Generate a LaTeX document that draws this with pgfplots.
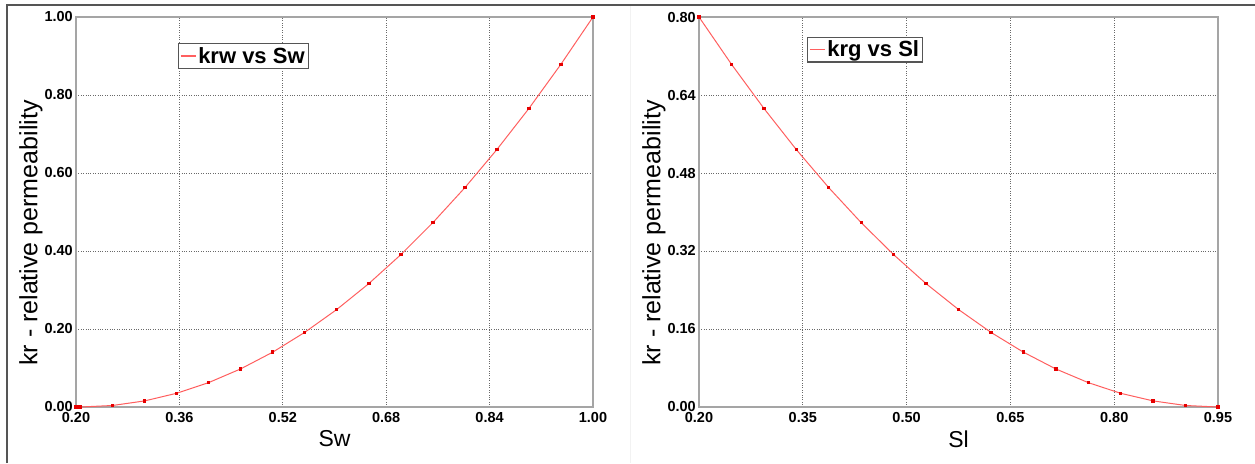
\documentclass[border=0pt]{standalone}
\usepackage{fontspec}
\setmainfont{Liberation Sans}
\usepackage{pgfplots}
\pgfplotsset{compat=1.18}

\definecolor{axgray}{RGB}{165,165,165}
\definecolor{gridgray}{RGB}{105,105,105}
\definecolor{curvered}{RGB}{255,95,95}
\definecolor{markred}{RGB}{230,0,0}
\definecolor{framegray}{RGB}{85,85,85}

\pgfplotsset{
  kr/.style={
    scale only axis,
    height=390pt,
    clip=false,
    axis line style={axgray, line width=2pt},
    grid=major,
    grid style={gridgray, dotted, line width=0.9pt},
    major tick length=0pt,
    tick style={draw=none},
    /pgf/number format/fixed,
    /pgf/number format/fixed zerofill,
    /pgf/number format/precision=2,
    /pgf/number format/assume math mode=true,
    tick label style={font=\fontsize{14.5}{16}\selectfont\bfseries},
    xticklabel style={anchor=north, inner sep=0pt, yshift=-5pt},
    yticklabel style={anchor=east, inner sep=0pt, xshift=-3pt},
    xlabel style={font=\fontsize{23}{26}\selectfont, at={(axis description cs:0.5,-0.082)}, anchor=center},
    ylabel style={font=\fontsize{25}{28}\selectfont, at={(axis description cs:-0.087,0.446)}, anchor=center},
    ylabel={kr - relative permeability},
    legend style={draw=framegray, line width=1.2pt, fill=white,
      font=\fontsize{22}{25}\selectfont\bfseries, inner sep=1.5pt,
      anchor=north west},
    legend cell align=left,
    legend image code/.code={\draw[curvered, line width=1.3pt] (0pt,0pt) -- (15pt,0pt);},
  },
  krcurve/.style={color=curvered, line width=1pt, mark=square*, mark size=1.2pt,
    mark options={draw=markred, fill=markred, line width=0pt}},
}

\begin{document}
\begin{tikzpicture}
\useasboundingbox (0pt,0pt) rectangle (1255pt,-463pt);
\draw[framegray, line width=1.5pt] (7pt,-463pt) -- (7pt,-5pt) -- (1255pt,-5pt);
\draw[gray!10, line width=1pt] (630pt,-463pt) -- (630pt,-6pt);

% left: water relative permeability
\begin{axis}[kr, at={(76pt,-407pt)}, anchor=south west, width=517pt,
  xmin=0.2, xmax=1.0, ymin=0, ymax=1.0,
  xtick={0.2,0.36,0.52,0.68,0.84,1.0},
  ytick={0,0.2,0.4,0.6,0.8,1.0},
  xlabel={Sw},
  legend style={at={(axis description cs:0.197,0.933)}}]
\addplot[krcurve] table {
Sw kr
0.2000 0
0.2035 0
0.2070 0
0.2566 0.0039
0.3061 0.0156
0.3557 0.0352
0.4052 0.0625
0.4548 0.0977
0.5044 0.1406
0.5539 0.1914
0.6035 0.2500
0.6531 0.3164
0.7026 0.3906
0.7522 0.4727
0.8018 0.5625
0.8513 0.6602
0.9009 0.7656
0.9504 0.8789
1.0000 1.0000
};
\addlegendentry{krw vs Sw}
\end{axis}

% right: gas relative permeability
\begin{axis}[kr, at={(699pt,-407pt)}, anchor=south west, width=519pt,
  xmin=0.2, xmax=0.95, ymin=0, ymax=0.8,
  xtick={0.2,0.35,0.5,0.65,0.8,0.95},
  ytick={0,0.16,0.32,0.48,0.64,0.8},
  xlabel={Sl},
  legend style={at={(axis description cs:0.208,0.949)}}]
\addplot[krcurve] table {
Sl kr
0.2000 0.8000
0.2469 0.7031
0.2938 0.6125
0.3406 0.5281
0.3875 0.4500
0.4344 0.3781
0.4813 0.3125
0.5281 0.2531
0.5750 0.2000
0.6219 0.1531
0.6688 0.1125
0.7156 0.0781
0.7625 0.0500
0.8094 0.0281
0.8563 0.0125
0.9031 0.0031
0.9500 0.0000
};
\addlegendentry{krg vs Sl}
\end{axis}
\end{tikzpicture}
\end{document}
